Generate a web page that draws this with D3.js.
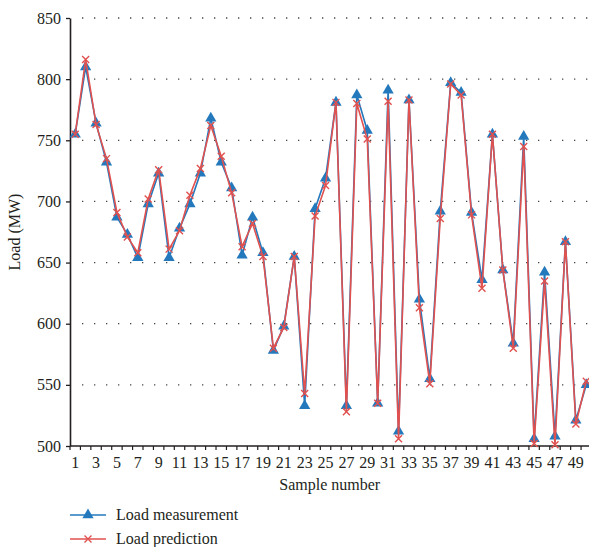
<!DOCTYPE html>
<html>
<head>
<meta charset="utf-8">
<script src="https://cdn.jsdelivr.net/npm/d3@7"></script>
<style>
  html, body { margin: 0; padding: 0; background: #fff; }
</style>
</head>
<body>
<svg id="chart" width="589" height="547"></svg>
<script>
const samples = d3.range(1, 51);
const measurement = [
  755, 810, 764, 732, 687, 673, 654, 698, 723, 654,
  678, 698, 723, 768, 732, 711, 656, 687, 658, 578,
  598, 655, 533, 694, 719, 781, 533, 787, 758, 535,
  791, 512, 783, 620, 555, 692, 797, 789, 691, 636,
  755, 644, 584, 753, 506, 642, 508, 667, 521, 550
];
const prediction = [
  755, 816, 763, 735, 691, 671, 658, 702, 726, 661,
  676, 705, 727, 762, 737, 707, 663, 682, 655, 580,
  597, 655, 543, 688, 713, 781, 528, 780, 751, 535,
  782, 506, 783, 613, 551, 686, 796, 787, 689, 629,
  755, 644, 580, 745, 502, 635, 501, 667, 518, 553
];
const yTicks = [500, 550, 600, 650, 700, 750, 800, 850];
const xTickLabels = samples.filter(d => d % 2 === 1);
const seriesNames = ["Load measurement", "Load prediction"];
const colors = ["#2479bd", "#e0514f"];

const FONT = "'Liberation Serif', 'Times New Roman', serif";
const FS = 16;
const TXT = "#231f20";

const svg = d3.select("#chart");
const mLeft = 70, mRight = 591.5, mTop = 18, mBottom = 446;

const x = d3.scaleBand().domain(samples).range([mLeft, mRight]).padding(0);
const cx = d => x(d) + x.bandwidth() / 2;
const y = d3.scaleLinear().domain([500, 850]).range([mBottom, mTop]);

// grid (dotted)
svg.append("g").selectAll("line").data(yTicks.filter(t => t > 500)).join("line")
  .attr("x1", mLeft + 12).attr("x2", mRight)
  .attr("y1", d => y(d)).attr("y2", d => y(d))
  .attr("stroke", "#444").attr("stroke-width", 1.3)
  .attr("stroke-dasharray", "1.3,10.7");

// y axis
const yAxis = d3.axisLeft(y).tickValues(yTicks).tickSize(4).tickPadding(5).tickSizeOuter(0);
const gy = svg.append("g").attr("transform", `translate(${mLeft},0)`).call(yAxis)
  .attr("font-family", FONT).attr("font-size", FS);
gy.select(".domain").attr("stroke", TXT).attr("stroke-width", 1.6);
gy.selectAll(".tick line").attr("stroke", TXT).attr("stroke-width", 1.3);
gy.selectAll("text").attr("fill", TXT);

// x axis baseline
svg.append("line").attr("x1", mLeft).attr("x2", mRight).attr("y1", mBottom).attr("y2", mBottom)
  .attr("stroke", TXT).attr("stroke-width", 1.6);
// boundary ticks
const bounds = samples.map(d => x(d)).concat([x(50) + x.bandwidth()]);
svg.append("g").selectAll("line").data(bounds).join("line")
  .attr("x1", d => d).attr("x2", d => d).attr("y1", mBottom).attr("y2", mBottom + 4)
  .attr("stroke", TXT).attr("stroke-width", 1.2);
svg.append("g").attr("font-family", FONT).attr("font-size", FS).attr("fill", TXT)
  .selectAll("text").data(xTickLabels).join("text")
  .attr("x", d => cx(d)).attr("y", mBottom + 22)
  .attr("text-anchor", "middle").text(d => d);

// axis titles
svg.append("text").attr("x", (mLeft + mRight) / 2 - 1).attr("y", 490)
  .attr("font-family", FONT).attr("font-size", FS).attr("fill", TXT)
  .attr("text-anchor", "middle").text("Sample number");
svg.append("text").attr("transform", `translate(20,${(mTop + mBottom) / 2}) rotate(-90)`)
  .attr("font-family", FONT).attr("font-size", FS).attr("fill", TXT)
  .attr("text-anchor", "middle").text("Load (MW)");

// lines
const line = d3.line().x((d, i) => cx(samples[i])).y(d => y(d));
svg.append("path").datum(measurement).attr("d", line)
  .attr("fill", "none").attr("stroke", colors[0]).attr("stroke-width", 1.6);

// triangles
const tri = d3.symbol().type(d3.symbolTriangle).size(55);
svg.append("g").selectAll("path").data(measurement).join("path")
  .attr("d", tri).attr("fill", colors[0])
  .attr("transform", (d, i) => `translate(${cx(samples[i])},${y(d)})`);

svg.append("path").datum(prediction).attr("d", line)
  .attr("fill", "none").attr("stroke", colors[1]).attr("stroke-width", 1.6);

const crossPath = "M-3.5,-3.5L3.5,3.5M-3.5,3.5L3.5,-3.5";
svg.append("g").selectAll("path").data(prediction).join("path")
  .attr("d", crossPath).attr("stroke", colors[1]).attr("stroke-width", 1.4).attr("fill", "none")
  .attr("transform", (d, i) => `translate(${cx(samples[i])},${y(d)})`);

// legend
const legendY = [515, 539];
const lg = svg.append("g");
seriesNames.forEach((name, i) => {
  lg.append("line").attr("x1", 70).attr("x2", 106).attr("y1", legendY[i]).attr("y2", legendY[i])
    .attr("stroke", colors[i]).attr("stroke-width", 1.6);
  if (i === 0) {
    lg.append("path").attr("d", tri).attr("fill", colors[0])
      .attr("transform", `translate(88,${legendY[i]})`);
  } else {
    lg.append("path").attr("d", crossPath).attr("stroke", colors[1]).attr("stroke-width", 1.4)
      .attr("transform", `translate(88,${legendY[i]})`);
  }
  lg.append("text").attr("x", 116).attr("y", legendY[i] + 5)
    .attr("font-family", FONT).attr("font-size", FS).attr("fill", TXT).text(name);
});
</script>
</body>
</html>
